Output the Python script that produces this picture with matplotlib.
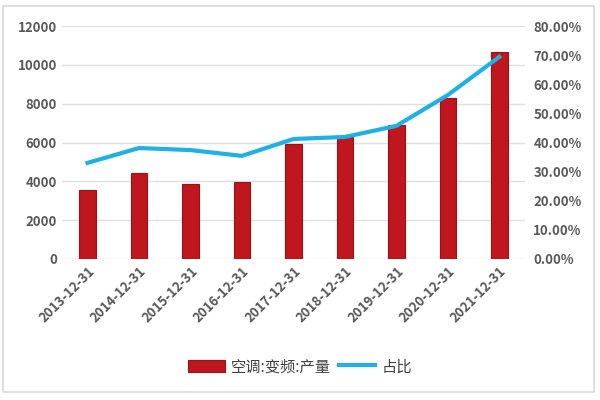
import matplotlib
matplotlib.use("Agg")
import matplotlib.pyplot as plt
from matplotlib.ticker import FuncFormatter
from matplotlib.patches import Rectangle

plt.rcParams['font.family'] = ['Noto Sans CJK SC', 'DejaVu Sans']

dates = ["2013-12-31", "2014-12-31", "2015-12-31", "2016-12-31", "2017-12-31",
         "2018-12-31", "2019-12-31", "2020-12-31", "2021-12-31"]
output = [3550, 4430, 3860, 3970, 5920, 6280, 6900, 8290, 10660]
share = [33.0, 38.1, 37.4, 35.4, 41.2, 41.9, 45.7, 56.3, 69.4]

grey = "#595959"

fig = plt.figure(figsize=(6, 4), dpi=100)
fig.patches.append(Rectangle((0.005, 0.02), 0.985, 0.965, transform=fig.transFigure,
                             fill=False, edgecolor="#d9d9d9", linewidth=1.2))
ax = fig.add_axes([0.103, 0.3525, 0.772, 0.5825])
x = list(range(len(dates)))
bars = ax.bar(x, output, width=0.32, color="#c0161e", edgecolor="#9e1016",
              linewidth=0.8, label="空调:变频:产量", zorder=2)
ax.set_ylim(0, 12000)
ax.set_yticks(range(0, 12001, 2000))
ax.set_xlim(-0.5, len(dates) - 0.5)
ax.grid(axis='y', color="#e0e0e0", linewidth=1, zorder=0)
for s in ax.spines.values():
    s.set_visible(False)
ax.tick_params(length=0, labelsize=9.5, labelcolor=grey)
ax.set_xticks(x)
ax.set_xticklabels(dates, rotation=45, ha='right', rotation_mode='anchor',
                   fontweight='bold', fontsize=9.5)
for t in ax.get_yticklabels():
    t.set_fontweight('bold')

ax2 = ax.twinx()
line, = ax2.plot(x, share, color="#1fb0e6", linewidth=3, label="占比", zorder=3)
ax2.set_ylim(0, 80)
ax2.set_yticks(range(0, 81, 10))
ax2.yaxis.set_major_formatter(FuncFormatter(lambda v, p: f"{v:.2f}%"))
for s in ax2.spines.values():
    s.set_visible(False)
ax2.tick_params(length=0, labelsize=9.5, labelcolor=grey, pad=6)
for t in ax2.get_yticklabels():
    t.set_fontweight('bold')

fig.legend([bars, line], ["空调:变频:产量", "占比"], loc='center',
           bbox_to_anchor=(0.5, 0.083), ncol=2, frameon=False, fontsize=11,
           handlelength=2.4, handleheight=0.9, columnspacing=0.5,
           handletextpad=0.4, labelcolor="#404040")

fig.savefig("out.png", dpi=100)
